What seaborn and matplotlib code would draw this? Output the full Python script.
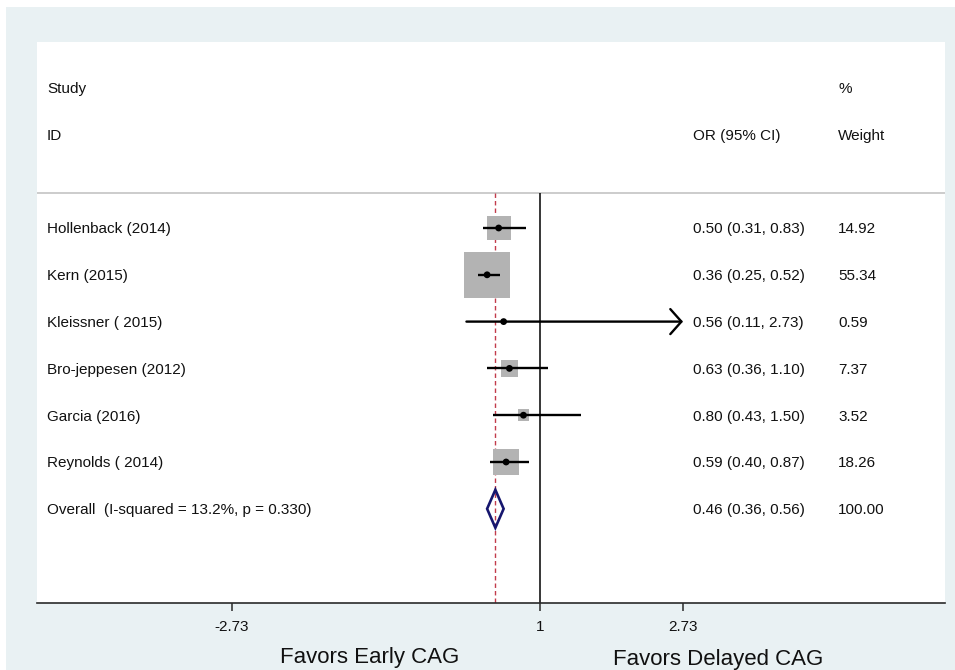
import matplotlib
matplotlib.use("Agg")
import matplotlib.pyplot as plt
import matplotlib.patches as mpatches
import matplotlib.transforms as mtrans
import seaborn as sns
import pandas as pd

# ---------------- data ----------------
studies = ["Hollenback (2014)", "Kern (2015)", "Kleissner ( 2015)",
           "Bro-jeppesen (2012)", "Garcia (2016)", "Reynolds ( 2014)"]
or_est = [0.50, 0.36, 0.56, 0.63, 0.80, 0.59]
ci_lo = [0.31, 0.25, 0.11, 0.36, 0.43, 0.40]
ci_hi = [0.83, 0.52, 2.73, 1.10, 1.50, 0.87]
weights = [14.92, 55.34, 0.59, 7.37, 3.52, 18.26]

overall_label = "Overall  (I-squared = 13.2%, p = 0.330)"
overall_est = 0.46
overall_lo = 0.36
overall_hi = 0.56
overall_weight = 100.00

x_ticks = [-2.73, 1, 2.73]
x_ticklabels = ["-2.73", "1", "2.73"]
left_label = "Favors Early CAG"
right_label = "Favors Delayed CAG"

# ---------------- style ----------------
sns.set_theme(style="white")
plt.rcParams["font.family"] = ["Liberation Sans", "DejaVu Sans"]

W, H = 955, 670
fig = plt.figure(figsize=(W / 100, H / 100), dpi=100, facecolor="white")
bg = "#E9F1F3"
fig.patches.append(mpatches.Rectangle((6 / W, 0), 1 - 6 / W, 1 - 7 / H,
                                      transform=fig.transFigure,
                                      facecolor=bg, edgecolor="none", zorder=-5))

ax = fig.add_axes([37 / W, 1 - 603 / H, (945 - 37) / W, (603 - 42) / H])
ax.set_zorder(2)
ax.set_facecolor("white")

# coordinate ranges
px_per_unit = 143 / 1.73
ax.set_xlim(1 + (37 - 540) / px_per_unit, 1 + (945 - 540) / px_per_unit)
row_h = 46.8
ax.set_ylim((603 - 228) / row_h, (42 - 228) / row_h)

df = pd.DataFrame({"study": studies, "est": or_est, "lo": ci_lo,
                   "hi": ci_hi, "w": weights})
df["row"] = range(len(df))
overall_row = len(df)

header_y = (193 - 228) / row_h
ytop = header_y
ybot = (603 - 228) / row_h

# vertical reference lines
ax.vlines(1, ytop, ybot, color="black", lw=1.1, zorder=2)
ax.vlines(overall_est, ytop, ybot, color="#C23B4B", lw=1.0,
          linestyles=(0, (3.2, 2.2)), zorder=2)

# header separator line
ax.axhline(header_y, color="#C4C4C4", lw=1.2, zorder=1)

# weight squares
sns.scatterplot(data=df, x="est", y="row", size="w", sizes=(0, 2000),
                size_norm=(0, 100), marker="s", color="#B3B3B3",
                edgecolor="none", linewidth=0, legend=False, ax=ax, zorder=3)

# confidence intervals
for _, r in df.iterrows():
    if r["hi"] >= x_ticks[-1]:
        ax.annotate("", xy=(r["hi"], r["row"]), xytext=(r["lo"], r["row"]),
                    arrowprops=dict(arrowstyle="->,head_length=0.4,head_width=0.45",
                                    mutation_scale=20, lw=1.7, color="black",
                                    shrinkA=0, shrinkB=0), zorder=4)
    else:
        ax.hlines(r["row"], r["lo"], r["hi"], color="black", lw=1.7, zorder=4)

# point estimates
sns.scatterplot(data=df, x="est", y="row", s=24, color="black",
                edgecolor="none", legend=False, ax=ax, zorder=5)

# overall diamond
dh = 0.405
ax.fill([overall_lo, overall_est, overall_hi, overall_est],
        [overall_row, overall_row - dh, overall_row, overall_row + dh],
        facecolor="none", edgecolor="#16166E", lw=1.9, zorder=5)

# text columns
trans = mtrans.blended_transform_factory(ax.transAxes, ax.transData)
col_study = (47 - 37) / 908
col_or = (693 - 37) / 908
col_w = (838 - 37) / 908
fs = 11
tc = "#111111"
dy = 0.03
ax.text(col_study, -3 + dy, "Study", transform=trans, va="center", fontsize=fs, color=tc)
ax.text(col_study, -2 + dy, "ID", transform=trans, va="center", fontsize=fs, color=tc)
ax.text(col_or, -2 + dy, "OR (95% CI)", transform=trans, va="center", fontsize=fs, color=tc)
ax.text(col_w, -3 + dy, "%", transform=trans, va="center", fontsize=fs, color=tc)
ax.text(col_w, -2 + dy, "Weight", transform=trans, va="center", fontsize=fs, color=tc)

for _, r in df.iterrows():
    ax.text(col_study, r["row"] + dy, r["study"], transform=trans, va="center",
            fontsize=fs, color=tc)
    ax.text(col_or, r["row"] + dy, f"{r['est']:.2f} ({r['lo']:.2f}, {r['hi']:.2f})",
            transform=trans, va="center", fontsize=fs, color=tc)
    ax.text(col_w, r["row"] + dy, f"{r['w']:.2f}", transform=trans, va="center",
            fontsize=fs, color=tc)

ax.text(col_study, overall_row + dy, overall_label, transform=trans, va="center",
        fontsize=fs, color=tc)
ax.text(col_or, overall_row + dy,
        f"{overall_est:.2f} ({overall_lo:.2f}, {overall_hi:.2f})",
        transform=trans, va="center", fontsize=fs, color=tc)
ax.text(col_w, overall_row + dy, f"{overall_weight:.2f}", transform=trans,
        va="center", fontsize=fs, color=tc)

# axes styling
for s in ["top", "left", "right"]:
    ax.spines[s].set_visible(False)
ax.spines["bottom"].set_color("#2a2a2a")
ax.spines["bottom"].set_linewidth(1.2)
ax.set_yticks([])
ax.set_xticks(x_ticks)
ax.set_xticklabels(x_ticklabels, fontsize=fs, color=tc)
ax.tick_params(axis="x", bottom=True, length=6, width=1.1, color="#2a2a2a",
               pad=6, direction="out")
ax.set_xlabel("")
ax.set_ylabel("")

fig.text(370 / W, 1 - 663 / H, left_label, ha="center", va="baseline",
         fontsize=16, color=tc)
fig.text(718 / W, 1 - 665 / H, right_label, ha="center", va="baseline",
         fontsize=16, color=tc)

fig.savefig("out.png", dpi=100, facecolor=fig.get_facecolor())
